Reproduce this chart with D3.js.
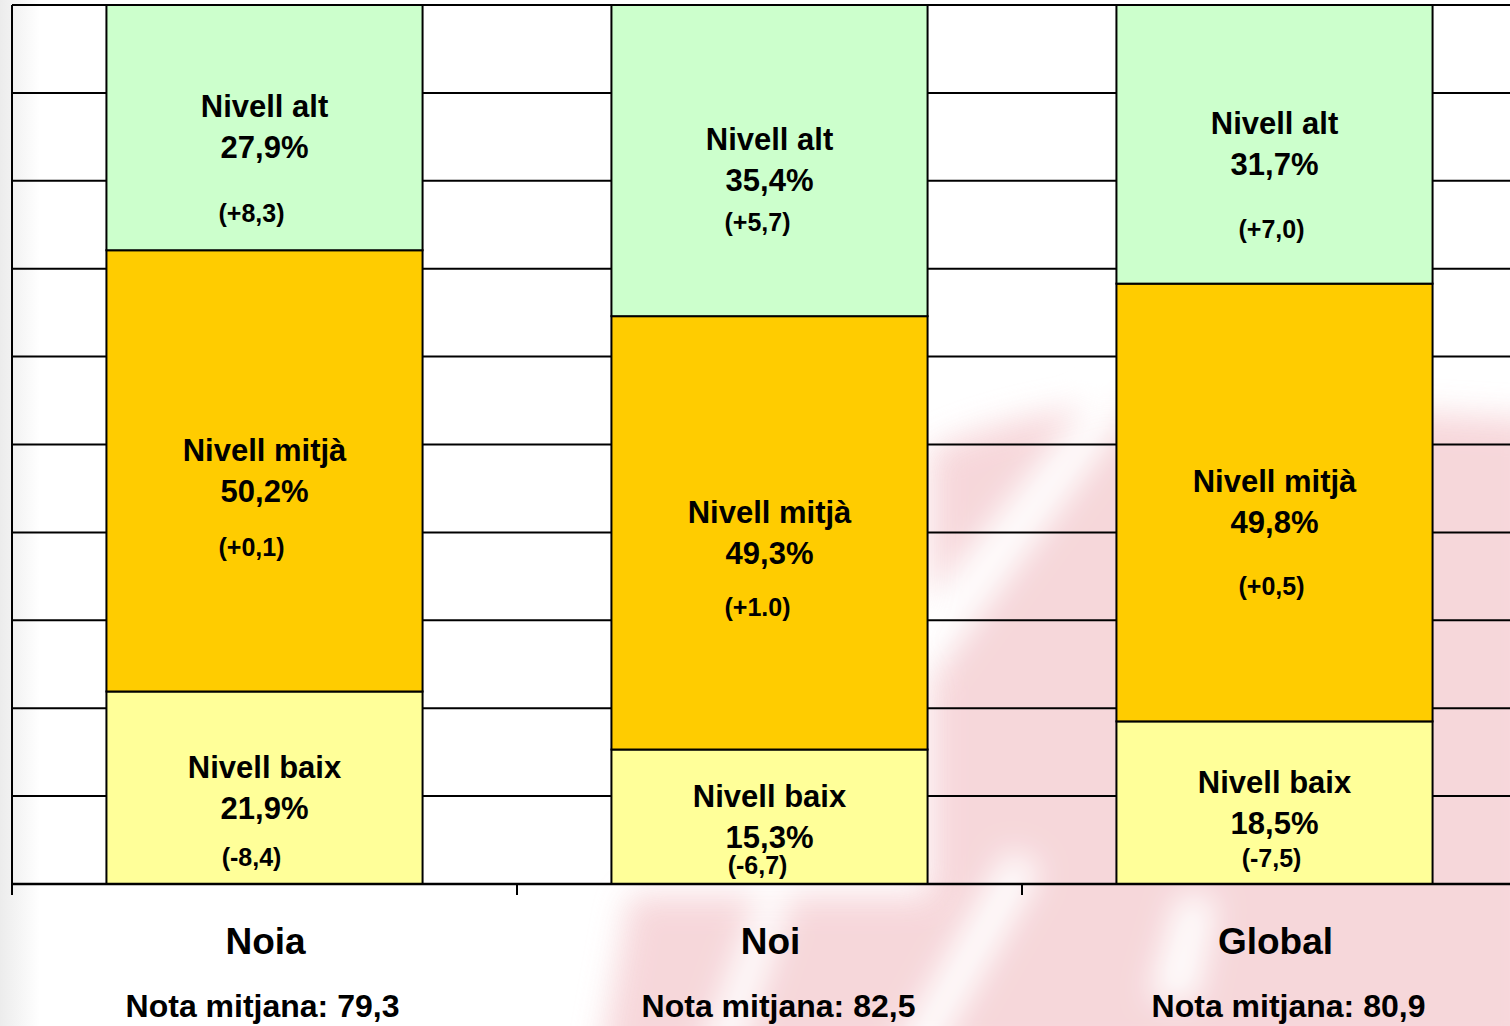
<!DOCTYPE html>
<html>
<head>
<meta charset="utf-8">
<script src="https://cdn.jsdelivr.net/npm/d3@7"></script>
<style>
  html, body { margin: 0; padding: 0; background: #fff; }
  svg { display: block; }
  text { font-family: "Liberation Sans", Arial, sans-serif; font-weight: bold; fill: #000; }
</style>
</head>
<body>
<div id="chart"></div>
<script>
// data
const categories = ["Noia", "Noi", "Global"];
const levels = ["Nivell baix", "Nivell mitjà", "Nivell alt"];
const baix = [21.9, 15.3, 18.5];
const mitja = [50.2, 49.3, 49.8];
const alt = [27.9, 35.4, 31.7];
const baixDelta = ["(-8,4)", "(-6,7)", "(-7,5)"];
const mitjaDelta = ["(+0,1)", "(+1.0)", "(+0,5)"];
const altDelta = ["(+8,3)", "(+5,7)", "(+7,0)"];
const notaMitjana = ["79,3", "82,5", "80,9"];

// hand placement of the small delta labels (px from segment centre), as in the original slide
const deltaShiftY = [[70, 76, 86], [48, 74, 62], [56, 84, 85]];
const deltaShiftX = [-13, -12, -3];
const notaShiftX = [-2, 9, 14];

const colors = { "Nivell baix": "#ffff99", "Nivell mitjà": "#ffcc00", "Nivell alt": "#ccffcc" };

const W = 1510, H = 1026;
const plot = { left: 12, right: 1527, top: 5, bottom: 884 };

const svg = d3.select("#chart").append("svg")
  .attr("width", W)
  .attr("height", H);

// faint watermark in the background
const defs = svg.append("defs");
defs.append("filter").attr("id", "blur")
  .attr("x", "-20%").attr("y", "-20%").attr("width", "140%").attr("height", "140%")
  .append("feGaussianBlur").attr("stdDeviation", 16);
const lg = defs.append("linearGradient").attr("id", "leftfade");
lg.append("stop").attr("offset", "0%").attr("stop-color", "#ececec");
lg.append("stop").attr("offset", "100%").attr("stop-color", "#fff");

svg.append("rect").attr("width", W).attr("height", H).attr("fill", "#fff");
svg.append("rect").attr("width", 40).attr("height", H).attr("fill", "url(#leftfade)");

const wm = svg.append("g").attr("filter", "url(#blur)").attr("opacity", 0.9);
wm.append("path")
  .attr("d", "M930,1060 L930,450 Q1040,400 1200,400 L1540,420 L1540,1060 Z")
  .attr("fill", "#f6d3d7");
wm.append("path")
  .attr("d", "M600,1060 L630,895 L940,895 L940,1060 Z")
  .attr("fill", "#f6d3d7");
// white diagonal bands through the pink
const bands = [
  "M900,640 L1100,390 L1130,410 L930,680 Z",
  "M890,1060 L1010,850 L1040,870 L930,1060 Z",
  "M700,1060 L760,895 L790,900 L735,1060 Z",
  "M1150,1000 L1180,895 L1215,900 L1195,1000 Z"
];
wm.selectAll(".band").data(bands).enter().append("path")
  .attr("class", "band")
  .attr("d", d => d)
  .attr("fill", "#fff");

// scales
const x = d3.scaleBand()
  .domain(categories)
  .range([plot.left, plot.right])
  .paddingInner(0.374)
  .paddingOuter(0.187);
const y = d3.scaleLinear().domain([0, 100]).range([plot.bottom, plot.top]);

// gridlines
const g = svg.append("g");
g.selectAll(".grid").data(d3.range(10, 101, 10)).enter().append("line")
  .attr("class", "grid")
  .attr("x1", plot.left).attr("x2", plot.right)
  .attr("y1", d => y(d)).attr("y2", d => y(d))
  .attr("stroke", "#000").attr("stroke-width", 2);

g.append("line")
  .attr("x1", plot.left).attr("x2", plot.left)
  .attr("y1", plot.top).attr("y2", plot.bottom)
  .attr("stroke", "#000").attr("stroke-width", 2);

// stacked bars
const rows = categories.map((c, i) => ({
  cat: c,
  "Nivell baix": baix[i],
  "Nivell mitjà": mitja[i],
  "Nivell alt": alt[i]
}));
const series = d3.stack().keys(levels)(rows);
const deltas = { "Nivell baix": baixDelta, "Nivell mitjà": mitjaDelta, "Nivell alt": altDelta };

series.forEach((s, li) => {
  const layer = g.append("g");
  layer.selectAll("rect").data(s).enter().append("rect")
    .attr("x", d => x(d.data.cat))
    .attr("width", x.bandwidth())
    .attr("y", d => y(d[1]))
    .attr("height", d => y(d[0]) - y(d[1]))
    .attr("fill", colors[s.key])
    .attr("stroke", "#000")
    .attr("stroke-width", 2);

  s.forEach((d, ci) => {
    const cx = x(d.data.cat) + x.bandwidth() / 2;
    const cy = (y(d[0]) + y(d[1])) / 2;
    layer.append("text")
      .attr("x", cx).attr("y", cy - 21).attr("dy", "0.35em")
      .attr("text-anchor", "middle").style("font-size", "31px")
      .text(s.key);
    layer.append("text")
      .attr("x", cx).attr("y", cy + 20).attr("dy", "0.35em")
      .attr("text-anchor", "middle").style("font-size", "31px")
      .text(d3.format(".1f")(d[1] - d[0]).replace(".", ",") + "%");
    layer.append("text")
      .attr("x", cx + deltaShiftX[ci]).attr("y", cy + deltaShiftY[ci][li]).attr("dy", "0.35em")
      .attr("text-anchor", "middle").style("font-size", "25px")
      .text(deltas[s.key][ci]);
  });
});

// x axis: baseline and ticks at category boundaries
g.append("line")
  .attr("x1", plot.left).attr("x2", plot.right)
  .attr("y1", plot.bottom).attr("y2", plot.bottom)
  .attr("stroke", "#000").attr("stroke-width", 2.5);
const boundaries = categories.map(c => x(c) - x.step() * x.paddingOuter()).concat([plot.right]);
g.selectAll(".tick").data(boundaries).enter().append("line")
  .attr("class", "tick")
  .attr("x1", d => d).attr("x2", d => d)
  .attr("y1", plot.bottom).attr("y2", plot.bottom + 11)
  .attr("stroke", "#000").attr("stroke-width", 2);

// category labels
const labels = g.selectAll(".cat").data(categories).enter().append("g").attr("class", "cat");
labels.append("text")
  .attr("x", d => x(d) + x.bandwidth() / 2 + 1)
  .attr("y", 941).attr("dy", "0.35em")
  .attr("text-anchor", "middle").style("font-size", "37px")
  .text(d => d);
labels.append("text")
  .attr("x", (d, i) => x(d) + x.bandwidth() / 2 + notaShiftX[i])
  .attr("y", 1006).attr("dy", "0.35em")
  .attr("text-anchor", "middle").style("font-size", "32px")
  .text((d, i) => "Nota mitjana: " + notaMitjana[i]);
</script>
</body>
</html>
